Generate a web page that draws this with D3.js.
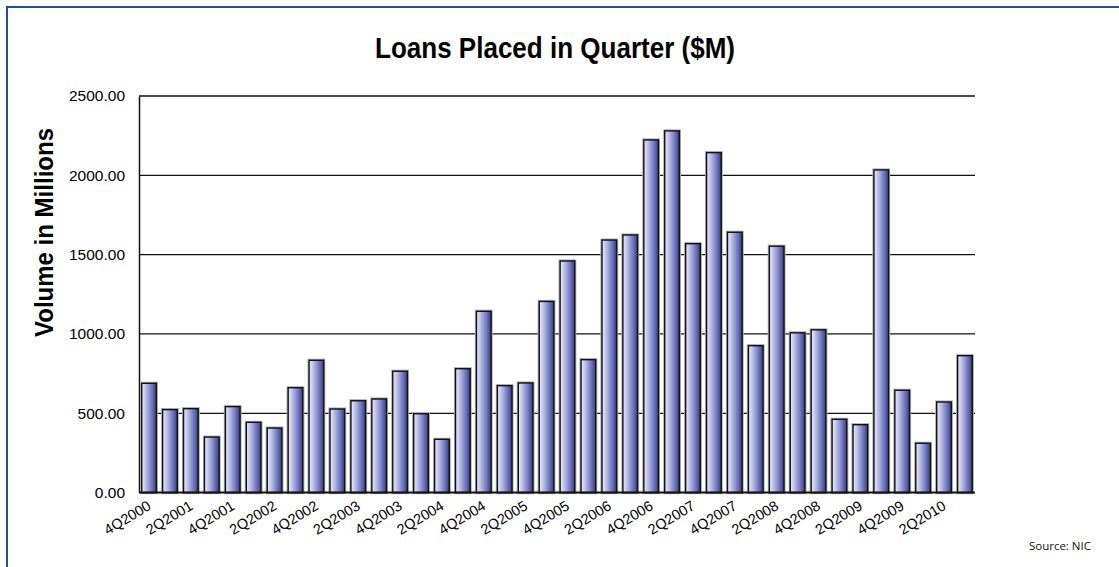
<!DOCTYPE html>
<html>
<head>
<meta charset="utf-8">
<script src="https://cdn.jsdelivr.net/npm/d3@7"></script>
<style>
  html, body { margin: 0; padding: 0; background: #fff; }
  svg { display: block; }
</style>
</head>
<body>
<svg id="chart" width="1119" height="567"></svg>
<script>
// Quarterly loan volume, $ millions
const quarters = [
  "4Q2000","1Q2001","2Q2001","3Q2001","4Q2001","1Q2002","2Q2002","3Q2002",
  "4Q2002","1Q2003","2Q2003","3Q2003","4Q2003","1Q2004","2Q2004","3Q2004",
  "4Q2004","1Q2005","2Q2005","3Q2005","4Q2005","1Q2006","2Q2006","3Q2006",
  "4Q2006","1Q2007","2Q2007","3Q2007","4Q2007","1Q2008","2Q2008","3Q2008",
  "4Q2008","1Q2009","2Q2009","3Q2009","4Q2009","1Q2010","2Q2010","3Q2010"
];
const volumes = [
  689, 523, 529, 350, 542, 443, 407, 661,
  834, 527, 579, 590, 765, 497, 336, 781,
  1143, 674, 691, 1205, 1460, 838, 1592, 1624,
  2223, 2280, 1569, 2143, 1641, 926, 1553, 1007,
  1026, 462, 428, 2034, 645, 311, 571, 863
];
const xTickLabels = [
  "4Q2000","2Q2001","4Q2001","2Q2002","4Q2002","2Q2003","4Q2003","2Q2004",
  "4Q2004","2Q2005","4Q2005","2Q2006","4Q2006","2Q2007","4Q2007","2Q2008",
  "4Q2008","2Q2009","4Q2009","2Q2010"
];
const yTicks = [0, 500, 1000, 1500, 2000, 2500];

const titleText = "Loans Placed in Quarter ($M)";
const yAxisTitle = "Volume in Millions";
const sourceText = "Source: NIC";

const svg = d3.select("#chart");
const plain = "'Liberation Sans', Arial, sans-serif";

const plot = { left: 139, right: 975, top: 96, bottom: 492.6 };

const x = d3.scaleBand()
  .domain(quarters)
  .range([plot.left, plot.right])
  .paddingInner(0.3)
  .paddingOuter(0.13);

const y = d3.scaleLinear()
  .domain([0, 2500])
  .range([plot.bottom, plot.top]);

// frame
svg.append("rect")
  .attr("x", 7).attr("y", 7)
  .attr("width", 1130).attr("height", 580)
  .attr("fill", "none")
  .attr("stroke", "#24528f")
  .attr("stroke-width", 2);

// bar gradient
const defs = svg.append("defs");
const grad = defs.append("linearGradient")
  .attr("id", "barFill")
  .attr("x1", "0%").attr("x2", "100%")
  .attr("y1", "0%").attr("y2", "0%");
[
  [0, "#eceef8"],
  [0.3, "#b9bde2"],
  [0.7, "#6f75bd"],
  [1, "#333b8e"]
].forEach(([o, c]) => grad.append("stop").attr("offset", o).attr("stop-color", c));

// gridlines
svg.append("g")
  .selectAll("line")
  .data(yTicks.filter(d => d > 0))
  .join("line")
  .attr("x1", plot.left).attr("x2", plot.right)
  .attr("y1", d => y(d)).attr("y2", d => y(d))
  .attr("stroke", "#111")
  .attr("stroke-width", 1.3);

// y axis
const yAxis = svg.append("g")
  .attr("transform", `translate(${plot.left},0)`)
  .call(d3.axisLeft(y).tickValues(yTicks).tickSize(0).tickPadding(14)
    .tickFormat(d3.format(".2f")));
yAxis.select(".domain").attr("stroke", "#111").attr("stroke-width", 1.5);
yAxis.selectAll("text")
  .attr("font-family", plain)
  .attr("font-size", 15.5)
  .attr("fill", "#000");

// bars: soft halo then outlined gradient bar
const bars = svg.append("g");
bars.selectAll("rect.halo")
  .data(volumes)
  .join("rect")
  .attr("class", "halo")
  .attr("x", (d, i) => x(quarters[i]))
  .attr("y", d => y(d))
  .attr("width", x.bandwidth())
  .attr("height", d => plot.bottom - y(d))
  .attr("fill", "none")
  .attr("stroke", "#b0b0b0")
  .attr("stroke-width", 3.2);
bars.selectAll("rect.bar")
  .data(volumes)
  .join("rect")
  .attr("class", "bar")
  .attr("x", (d, i) => x(quarters[i]))
  .attr("y", d => y(d))
  .attr("width", x.bandwidth())
  .attr("height", d => plot.bottom - y(d))
  .attr("fill", "url(#barFill)")
  .attr("stroke", "#111")
  .attr("stroke-width", 1.4);

// x axis
const xAxis = svg.append("g")
  .attr("transform", `translate(0,${plot.bottom})`)
  .call(d3.axisBottom(x).tickValues(xTickLabels).tickSize(0).tickFormat(d => d));
xAxis.select(".domain")
  .attr("d", `M${plot.left},0H${plot.right}`)
  .attr("stroke", "#111").attr("stroke-width", 2);
xAxis.selectAll(".tick text")
  .attr("font-family", plain)
  .attr("font-size", 14.5)
  .attr("fill", "#000")
  .attr("text-anchor", "end")
  .attr("y", 0).attr("dy", 0)
  .attr("transform", "translate(3,16) rotate(-31)");

// title, condensed to the heading width
svg.append("text")
  .attr("x", 375).attr("y", 58)
  .attr("textLength", 360)
  .attr("lengthAdjust", "spacingAndGlyphs")
  .attr("font-family", plain)
  .attr("font-weight", "bold")
  .attr("font-size", 30)
  .attr("fill", "#000")
  .text(titleText);

// y axis title, condensed
svg.append("text")
  .attr("transform", "translate(53,337) rotate(-90)")
  .attr("textLength", 209)
  .attr("lengthAdjust", "spacingAndGlyphs")
  .attr("font-family", plain)
  .attr("font-weight", "bold")
  .attr("font-size", 25)
  .attr("fill", "#000")
  .text(yAxisTitle);

// source note
svg.append("text")
  .attr("x", 1091).attr("y", 550)
  .attr("text-anchor", "end")
  .attr("font-family", "'Open Sans', 'Noto Sans', sans-serif")
  .attr("font-size", 11.5)
  .attr("fill", "#111")
  .text(sourceText);
</script>
</body>
</html>
